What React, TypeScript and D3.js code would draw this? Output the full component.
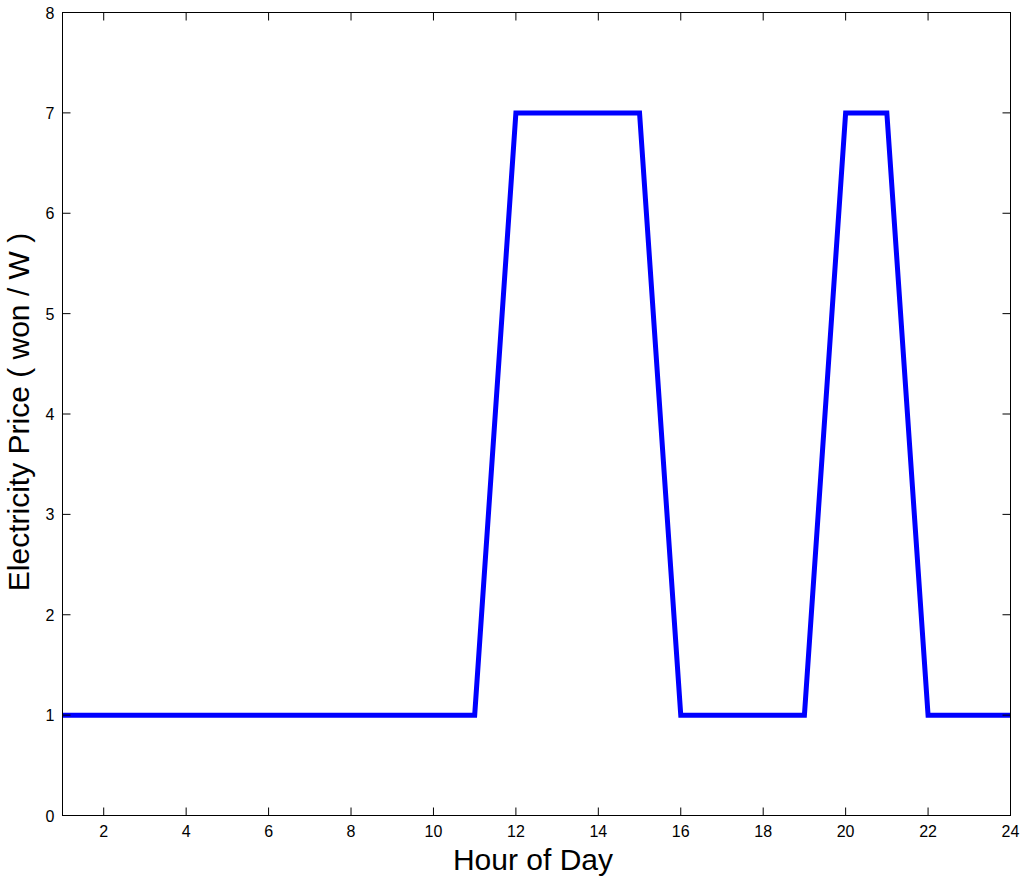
import React from "react";
import * as d3 from "d3";

const hours = d3.range(1, 25);
const prices = [1, 1, 1, 1, 1, 1, 1, 1, 1, 1, 1, 7, 7, 7, 7, 1, 1, 1, 1, 7, 7, 1, 1, 1];
const xTicks = [2, 4, 6, 8, 10, 12, 14, 16, 18, 20, 22, 24];
const yTicks = [0, 1, 2, 3, 4, 5, 6, 7, 8];

const W = 1024, H = 884;
const L = 62.5, R = 1010.5, T = 12.5, B = 815.5;

export default function App() {
  const x = d3.scaleLinear().domain([1, 24]).range([L, R]);
  const y = d3.scaleLinear().domain([0, 8]).range([B, T]);
  const line = d3.line<number>().x((_, i) => x(hours[i])).y((d) => y(d));
  const tl = 8;
  const font = "Arial, 'Liberation Sans', sans-serif";
  return (
    <svg width={W} height={H} style={{ position: "absolute", left: 0, top: 0, background: "#fff" }} fontFamily={font}>
      <rect x={0} y={0} width={W} height={H} fill="#fff" />
      <path d={line(prices) || ""} fill="none" stroke="#0000ff" strokeWidth={5} strokeLinejoin="miter" />
      <rect x={L} y={T} width={R - L} height={B - T} fill="none" stroke="#000" strokeWidth={1} />
      {xTicks.map((t) => (
        <g key={"x" + t}>
          <line x1={x(t)} x2={x(t)} y1={B} y2={B - tl} stroke="#000" />
          <line x1={x(t)} x2={x(t)} y1={T} y2={T + tl} stroke="#000" />
          <text x={x(t)} y={B + 21} fontSize={16} textAnchor="middle" fill="#000">{t}</text>
        </g>
      ))}
      {yTicks.map((t) => (
        <g key={"y" + t}>
          <line x1={L} x2={L + tl} y1={y(t)} y2={y(t)} stroke="#000" />
          <line x1={R} x2={R - tl} y1={y(t)} y2={y(t)} stroke="#000" />
          <text x={L - 8} y={y(t) + 6} fontSize={16} textAnchor="end" fill="#000">{t}</text>
        </g>
      ))}
      <text x={533} y={870} fontSize={30} textAnchor="middle" fill="#000">Hour of Day</text>
      <text transform={`translate(29, 412) rotate(-90)`} fontSize={30} textAnchor="middle" fill="#000">Electricity Price ( won / W )</text>
    </svg>
  );
}
